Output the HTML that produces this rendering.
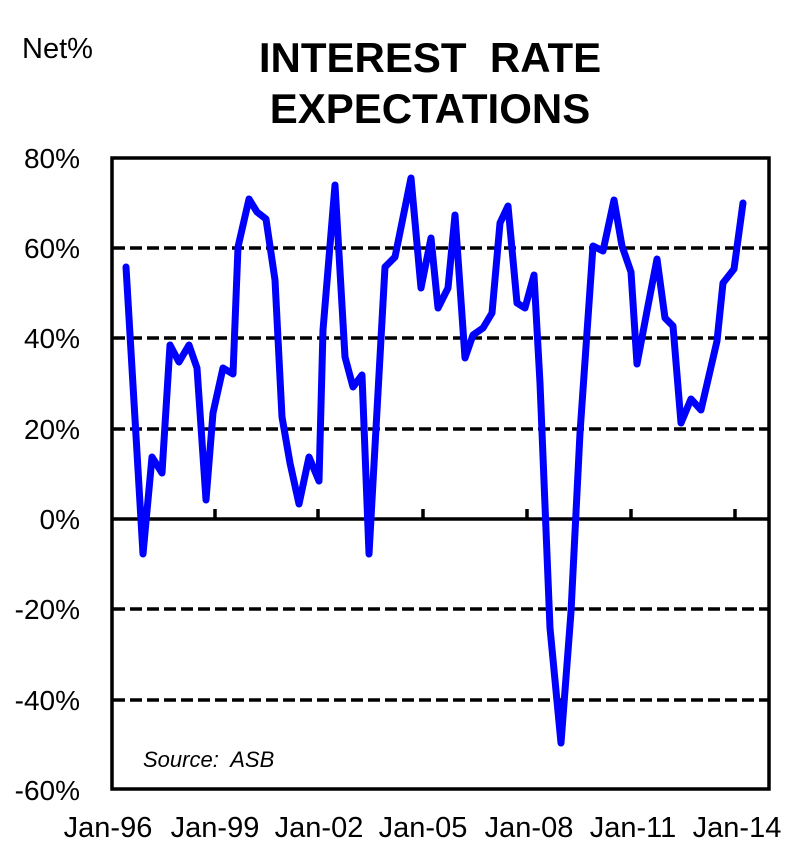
<!DOCTYPE html>
<html><head><meta charset="utf-8"><style>
html,body{margin:0;padding:0;background:#fff;}
svg{display:block;}
text{font-family:"Liberation Sans",Arial,sans-serif;fill:#000;}
</style></head><body>
<svg width="800" height="855" viewBox="0 0 800 855" xmlns="http://www.w3.org/2000/svg">
<text x="22" y="58" font-size="29">Net%</text>
<text x="430" y="72" font-size="42" font-weight="bold" text-anchor="middle" xml:space="preserve">INTEREST  RATE</text>
<text x="430" y="123" font-size="42" font-weight="bold" text-anchor="middle">EXPECTATIONS</text>
<g stroke="#000" stroke-width="3.5" stroke-dasharray="12,5">
<line x1="113" y1="248" x2="768" y2="248"/>
<line x1="113" y1="338" x2="768" y2="338"/>
<line x1="113" y1="429" x2="768" y2="429"/>
<line x1="113" y1="609" x2="768" y2="609"/>
<line x1="113" y1="700" x2="768" y2="700"/>
</g>
<line x1="112" y1="519" x2="769" y2="519" stroke="#000" stroke-width="3.5"/>
<g stroke="#000" stroke-width="3.5">
<line x1="215" y1="519" x2="215" y2="509"/>
<line x1="318" y1="519" x2="318" y2="509"/>
<line x1="423" y1="519" x2="423" y2="509"/>
<line x1="527" y1="519" x2="527" y2="509"/>
<line x1="631" y1="519" x2="631" y2="509"/>
<line x1="735" y1="519" x2="735" y2="509"/>
</g>
<rect x="112" y="158" width="657" height="631" fill="none" stroke="#000" stroke-width="3.5"/>
<polyline fill="none" stroke="#0000ff" stroke-width="7" stroke-linejoin="round" stroke-linecap="round" points="126,267 143,554 152,457 162,473 170,345 179,362 189,345 197,368 206,500 213,413 223,368 233,374 238,247 249,199 257,212 266,219 275,280 282,417 290,463 299,504 309,457 319,481 323,330 335,185 345,357 353,387 362,375 369,554 385,267 395,257 411,178 421,288 431,238 438,308 448,288 455,215 465,358 473,335 483,328 492,313 500,223 508,206 517,303 525,308 534,275 540,383 550,628 561,743 571,612 580,433 593,246 603,251 614,200 622,246 631,272 637,364 647,311 657,259 665,318 673,326 681,423 691,399 701,410 717,341 723,283 734,269 743,203"/>
<text x="143" y="767" font-size="22" font-style="italic" xml:space="preserve">Source:  ASB</text>
<g font-size="28" text-anchor="end">
<text x="80" y="168">80%</text>
<text x="80" y="258">60%</text>
<text x="80" y="348">40%</text>
<text x="80" y="439">20%</text>
<text x="80" y="529">0%</text>
<text x="80" y="619">-20%</text>
<text x="80" y="710">-40%</text>
<text x="80" y="800">-60%</text>
</g>
<g font-size="29" text-anchor="middle">
<text x="108" y="837">Jan-96</text>
<text x="215" y="837">Jan-99</text>
<text x="319" y="837">Jan-02</text>
<text x="423" y="837">Jan-05</text>
<text x="529" y="837">Jan-08</text>
<text x="633" y="837">Jan-11</text>
<text x="737" y="837">Jan-14</text>
</g>
</svg>
</body></html>
